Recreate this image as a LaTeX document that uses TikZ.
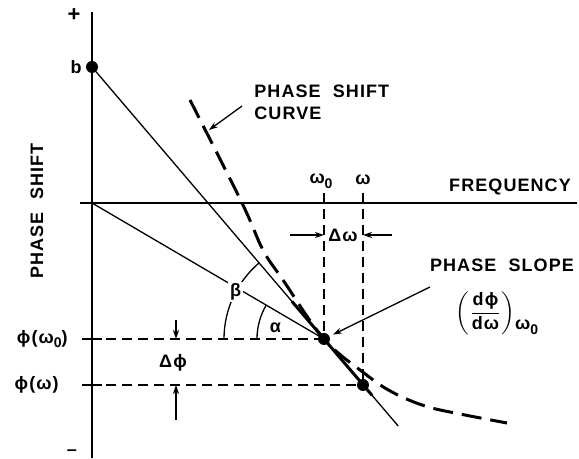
\documentclass[tikz,border=0pt]{standalone}
\usepackage{amsmath}
\usepackage{fontspec}
\setmainfont[LetterSpace=6]{Liberation Sans}
\usepackage{tikz}
\usetikzlibrary{arrows.meta,calc}
\newcommand\zsub{\raisebox{-0.5ex}{\fontsize{7}{8}\selectfont 0}}

\begin{document}
\begin{tikzpicture}[x=0.5pt,y=0.5pt,>={Stealth[length=4.5pt,width=3pt]},
  lbl/.style={font=\fontsize{9}{11}\selectfont\bfseries,inner sep=1pt},
  axis/.style={line width=1pt},
  thin/.style={line width=0.65pt},
  guide/.style={line width=0.65pt,dash pattern=on 5pt off 3pt},
  curve/.style={line width=1.5pt,dash pattern=on 10pt off 4.5pt},
  dot/.style={circle,fill,inner sep=0pt,minimum size=6pt}]
  \useasboundingbox (-92,-256) rectangle (487,203);
  % axes
  \coordinate (O) at (0,0);
  \draw[axis] (0,-255) -- (0,191);
  \draw[axis] (-12,0) -- (485,0);
  \node[lbl,font=\fontsize{11}{11}\selectfont\bfseries] (plus) at (-18,188) {+};
  \node[lbl] (minus) at (-20,-250) {–};
  \node[lbl,rotate=90] (yname) at (-55,-8) {PHASE\ \ SHIFT};
  \node[lbl] (xname) at (418,16) {FREQUENCY};
  % points
  \node[dot] (b) at (0,136) {};
  \node[lbl] (blbl) at (-16,136) {b};
  \node[dot] (p0) at (232,-136) {};
  \node[dot] (p1) at (271,-182) {};
  % guide lines
  \draw[thin] (-10,-136) -- (10,-136);
  \draw[thin] (-10,-182) -- (10,-182);
  \draw[guide] (14,-136) -- (p0.center);
  \draw[guide] (14,-182) -- (p1.center);
  \draw[guide] (232,10) -- (p0.center);
  \draw[guide] (271,10) -- (p1.center);
  \node[lbl,anchor=east] (phi0) at (-22,-136) {ϕ(ω\zsub)};
  \node[lbl,anchor=east] (phi1) at (-31,-182) {ϕ(ω)};
  \node[lbl] (w0) at (229,22) {ω\zsub};
  \node[lbl] (w1) at (271,23) {ω};
  % lines
  \draw[thin] (b.center) -- ($(b.center)!1.32!(p0.center)$);
  \draw[line width=1.5pt] ($(b.center)!0.862!(p0.center)$) -- ($(b.center)!1.207!(p0.center)$);
  \draw[thin] (O) -- (p0.center);
  \draw[curve] plot[smooth,tension=0.6] coordinates {(98,103) (150,0) (171,-47) (191,-77)
    (232,-136) (272,-170) (300,-189) (333,-203) (368,-211) (415,-220)};
  % angles
  \draw[thin] (p0.center) ++(180:100) arc[start angle=180,end angle=130.5,radius=100];
  \draw[thin] (p0.center) ++(180:67) arc[start angle=180,end angle=149.6,radius=67];
  \node[lbl,fill=white] (beta) at ($(p0.center)+(152:100)$) {β};
  \node[lbl] (alpha) at ($(p0.center)+(167:50)$) {α};
  % delta omega
  \coordinate (dwl) at (198,-32);
  \coordinate (dwr) at (300,-32);
  \draw[->,thin] (dwl) -- (dwl -| p0);
  \draw[->,thin] (dwr) -- (dwr -| p1);
  \node[lbl] (dw) at (251,-32) {Δω};
  % delta phi
  \coordinate (dpt) at (84,-117);
  \coordinate (dpb) at (84,-217);
  \draw[->,thin] (dpt) -- (dpt |- p0);
  \draw[->,thin] (dpb) -- (dpb |- p1);
  \node[lbl] (dphi) at (81,-160) {Δϕ};
  % labels with arrows
  \node[lbl,align=left,anchor=west] (curvelbl) at (160,101) {PHASE\ \ SHIFT\\CURVE};
  \coordinate (ctail) at (150,97);
  \coordinate (chead) at (117,73);
  \draw[->,thin] (ctail) -- (chead);
  \node[lbl] (slope) at (410,-62) {PHASE\ \ SLOPE};
  \coordinate (stail) at (338,-84);
  \draw[->,thin,shorten >=5pt] (stail) -- (p0.center);
  \node[lbl] (deriv) at (405,-110) {$\left(\dfrac{\text{dϕ}}{\text{dω}}\right)$\raisebox{-1.3ex}{ω\zsub}};
\end{tikzpicture}
\end{document}
